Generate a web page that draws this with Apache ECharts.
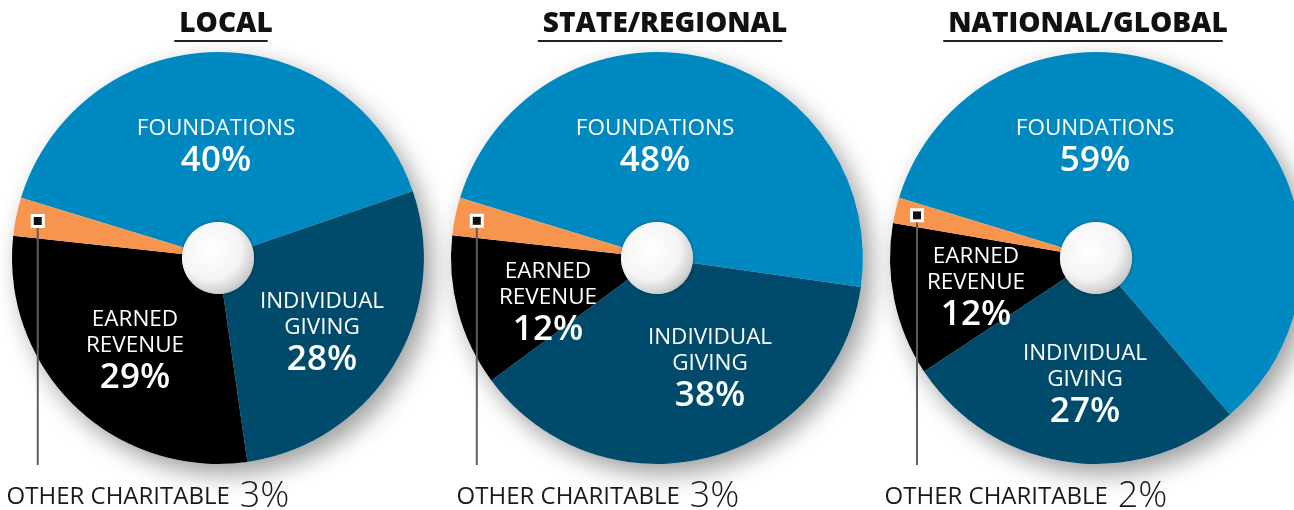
<!DOCTYPE html>
<html>
<head>
<meta charset="utf-8">
<script src="https://cdn.jsdelivr.net/npm/echarts@6/dist/echarts.min.js"></script>
<style>
  html, body { margin: 0; padding: 0; background: #fff; }
  #chart { width: 1294px; height: 510px; }
</style>
</head>
<body>
<div id="chart"></div>
<script>
const regions = ["LOCAL", "STATE/REGIONAL", "NATIONAL/GLOBAL"];
const sliceNames = ["FOUNDATIONS", "INDIVIDUAL\nGIVING", "EARNED\nREVENUE", "OTHER CHARITABLE"];
const localValues = [40, 28, 29, 3];
const stateValues = [48, 38, 12, 3];
const nationalValues = [59, 27, 12, 2];

const allValues = [localValues, stateValues, nationalValues];
const colors = ["#0089c0", "#004b6b", "#000000", "#f7954f"];

const FONT = "Open Sans";
const centersX = [218, 657, 1096];
const titleX = [221, 660, 1083];
const captionShift = [-70, -59, -70];
const centerY = 258;
const R = 206;
const START = 163;

// where the designer put each in-slice label, relative to the pie centre
const labelNudge = [
    [[-2, -110], [104, 76], [-83, 94]],
    [[-2, -110], [53, 112], [-109, 46]],
    [[-1, -110], [-11, 128], [-120, 31]]
];

const chart = echarts.init(document.getElementById("chart"), null, { renderer: "canvas" });

function midAngle(values, idx) {
    const total = values.reduce((a, b) => a + b, 0);
    let before = 0;
    for (let i = 0; i < idx; i++) before += values[i];
    return START - 360 * (before + values[idx] / 2) / total;
}

const series = [];
const titles = [];
const graphics = [];

const measure = document.createElement("canvas").getContext("2d");
measure.font = `800 28px "${FONT}"`;

regions.forEach((region, r) => {
    const values = allValues[r];
    const cx = centersX[r];

    titles.push({
        text: region,
        left: titleX[r],
        top: 5,
        textAlign: "center",
        textStyle: { fontFamily: FONT, fontWeight: 800, fontSize: 28, color: "#111" }
    });

    const w = measure.measureText(region).width;
    graphics.push({
        type: "rect",
        shape: { x: titleX[r] - w / 2, y: 40, width: w, height: 2 },
        style: { fill: "#222" }
    });

    // backing disc that carries the drop shadow
    series.push({
        type: "pie",
        silent: true,
        z: 1,
        center: [cx, centerY],
        radius: [0, R],
        label: { show: false },
        labelLine: { show: false },
        itemStyle: {
            color: "#fff",
            shadowBlur: 24,
            shadowColor: "rgba(0,0,0,0.38)",
            shadowOffsetX: 8,
            shadowOffsetY: 10
        },
        data: [{ value: 1 }]
    });

    series.push({
        type: "pie",
        silent: true,
        center: [cx, centerY],
        radius: [36, R],
        startAngle: START,
        clockwise: true,
        avoidLabelOverlap: false,
        z: 2,
        data: values.map((v, i) => ({
            name: sliceNames[i],
            value: v,
            itemStyle: { color: colors[i] },
            label: { show: i < 3 }
        })),
        label: {
            show: true,
            position: "inside",
            formatter: p => p.name.split("\n").map(s => `{n|${s}}`).join("\n") + `\n{v|${p.value}%}`,
            rich: {
                n: { fontFamily: FONT, fontSize: 22.5, color: "#fff", fontWeight: 500, lineHeight: 26 },
                v: { fontFamily: FONT, fontSize: 35, color: "#fff", fontWeight: 600, lineHeight: 38 }
            }
        },
        labelLine: { show: false },
        labelLayout: p => {
            if (p.dataIndex > 2) return {};
            const n = labelNudge[r][p.dataIndex];
            return { x: cx + n[0], y: centerY + n[1], align: "center", verticalAlign: "middle" };
        }
    });

    // leader line + caption for the small slice (sits above the main pie)
    const ang = midAngle(values, 3) * Math.PI / 180;
    const dotX = cx + 184 * Math.cos(ang);
    const dotY = centerY - 184 * Math.sin(ang);

    series.push({
        type: "pie",
        silent: true,
        center: [cx, centerY],
        radius: [0, R],
        startAngle: START,
        clockwise: true,
        avoidLabelOverlap: false,
        z: 10,
        itemStyle: { color: "none", borderWidth: 0 },
        data: values.map((v, i) => ({
            name: sliceNames[i],
            value: v,
            label: { show: i === 3 },
            labelLine: { show: i === 3, showAbove: true }
        })),
        label: {
            position: "outside",
            formatter: p => `{o|${p.name}}{s| }{q|${p.value}%}`,
            rich: {
                o: { fontFamily: FONT, fontSize: 24, color: "#1a1a1a", fontWeight: 400 },
                s: { width: 10 },
                q: { fontFamily: FONT, fontSize: 36, color: "#1a1a1a", fontWeight: 300 }
            }
        },
        labelLine: { showAbove: true, lineStyle: { color: "#5e5e5e", width: 2 } },
        labelLayout: p => {
            if (p.dataIndex !== 3) return {};
            return {
                x: cx + captionShift[r],
                y: 497,
                align: "center",
                verticalAlign: "middle",
                labelLinePoints: [[dotX, dotY], [dotX, 465], [dotX, 465]]
            };
        }
    });

    // marker square on the small slice
    series.push({
        type: "pie",
        silent: true,
        center: [cx, centerY],
        radius: [165, 197],
        startAngle: START,
        clockwise: true,
        z: 11,
        itemStyle: { color: "none", borderWidth: 0 },
        labelLine: { show: false },
        label: { show: false },
        data: values.map((v, i) => ({
            value: v,
            label: i === 3 ? {
                show: true,
                position: "inside",
                formatter: "{d|}",
                rich: { d: { width: 8, height: 8, backgroundColor: "#111", borderColor: "#fff", borderWidth: 3 } }
            } : { show: false }
        }))
    });

    // centre sphere
    series.push({
        type: "pie",
        silent: true,
        center: [cx, centerY],
        radius: [0, 36],
        z: 12,
        label: { show: false },
        labelLine: { show: false },
        itemStyle: {
            color: new echarts.graphic.RadialGradient(0.4, 0.38, 0.7, [
                { offset: 0, color: "#ffffff" },
                { offset: 0.6, color: "#f4f4f4" },
                { offset: 0.88, color: "#cfcfcf" },
                { offset: 1, color: "#a4a4a4" }
            ]),
            shadowBlur: 4,
            shadowColor: "rgba(0,0,0,0.3)"
        },
        data: [{ value: 1 }]
    });
});

chart.setOption({
    animation: false,
    title: titles,
    graphic: graphics,
    series: series
});
</script>
</body>
</html>
